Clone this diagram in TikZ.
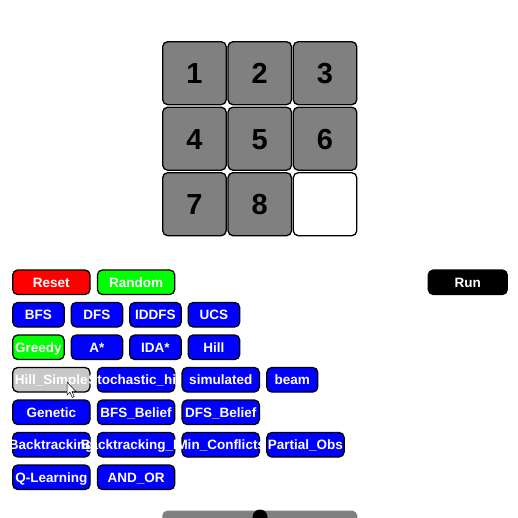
\documentclass[tikz,border=0pt]{standalone}
\usepackage{fontspec}
\setmainfont{Liberation Sans}
\definecolor{tilegray}{HTML}{808080}
\definecolor{lightbtn}{HTML}{C8C8C8}
\definecolor{pblue}{HTML}{0000FF}
\definecolor{pred}{HTML}{FF0000}
\definecolor{pgreen}{HTML}{00FF00}
\tikzset{
  x=1pt, y=-1pt,
  btn/.style={draw=black, line width=1.3pt, rounded corners=5pt, inner sep=0pt, outer sep=0pt, anchor=north west, minimum height=24.5pt},
  lbl/.style={text=white, font=\bfseries\fontsize{13.5}{13.5}\selectfont, anchor=base, inner sep=0pt},
  tile/.style={draw=black, line width=1.3pt, rounded corners=5pt, inner sep=0pt, outer sep=0pt, anchor=north west, minimum width=63.5pt, minimum height=63pt},
  digit/.style={text=black, font=\bfseries\fontsize{29}{29}\selectfont, anchor=base, inner sep=0pt},
}
\newcommand\mybtn[6]{%
  \node[btn, fill=#5, minimum width=#4pt] (#1) at (#2,#3) {};
  \node[lbl] (#1-t) at ([yshift=-5pt]#1.center) {#6};}
\newcommand\mytile[5]{%
  \node[tile, fill=#4] (#1) at (#2,#3) {};
  \node[digit] (#1-t) at ([yshift=-10.4pt]#1.center) {#5};}
\begin{document}
\begin{tikzpicture}
\useasboundingbox (0,0) rectangle (518,518);
\fill[white] (0,0) rectangle (518,518);
% puzzle
\mytile{t1}{162.7}{41.7}{tilegray}{1}
\mytile{t2}{228.0}{41.7}{tilegray}{2}
\mytile{t3}{293.3}{41.7}{tilegray}{3}
\mytile{t4}{162.7}{107.2}{tilegray}{4}
\mytile{t5}{228.0}{107.2}{tilegray}{5}
\mytile{t6}{293.3}{107.2}{tilegray}{6}
\mytile{t7}{162.7}{172.7}{tilegray}{7}
\mytile{t8}{228.0}{172.7}{tilegray}{8}
\mytile{t9}{293.3}{172.7}{white}{}
% row 1
\mybtn{reset}{12.7}{270}{77.3}{pred}{Reset}
\mybtn{random}{97.4}{270}{77.3}{pgreen}{Random}
\mybtn{run}{428.3}{270}{79}{black}{Run}
% row 2
\mybtn{bfs}{12.7}{302.5}{51.5}{pblue}{BFS}
\mybtn{dfs}{71.2}{302.5}{51.5}{pblue}{DFS}
\mybtn{iddfs}{129.7}{302.5}{51.5}{pblue}{IDDFS}
\mybtn{ucs}{188.2}{302.5}{51.5}{pblue}{UCS}
% row 3
\mybtn{greedy}{12.7}{335}{51.5}{pgreen}{Greedy}
\mybtn{astar}{71.2}{335}{51.5}{pblue}{A*}
\mybtn{idastar}{129.7}{335}{51.5}{pblue}{IDA*}
\mybtn{hill}{188.2}{335}{51.5}{pblue}{Hill}
% row 4
\mybtn{hillsimple}{12.7}{367.5}{77.3}{lightbtn}{Hill\_Simple}
\mybtn{stochastic}{97.4}{367.5}{77.3}{pblue}{Stochastic\_hill}
\mybtn{simulated}{182.1}{367.5}{77.3}{pblue}{simulated}
\mybtn{beam}{266.8}{367.5}{51}{pblue}{beam}
% row 5
\mybtn{genetic}{12.7}{400}{77.3}{pblue}{Genetic}
\mybtn{bfsbelief}{97.4}{400}{77.3}{pblue}{BFS\_Belief}
\mybtn{dfsbelief}{182.1}{400}{77.3}{pblue}{DFS\_Belief}
% row 6
\mybtn{backtracking}{12.7}{432.5}{77.3}{pblue}{Backtracking}
\mybtn{backtrackingfc}{97.4}{432.5}{77.3}{pblue}{Backtracking\_FC}
\mybtn{minconflicts}{182.1}{432.5}{77.3}{pblue}{Min\_Conflicts}
\mybtn{partialobs}{266.8}{432.5}{77.3}{pblue}{Partial\_Obs}
% row 7
\mybtn{qlearning}{12.7}{465}{77.3}{pblue}{Q-Learning}
\mybtn{andor}{97.4}{465}{77.3}{pblue}{AND\_OR}
% slider
\node[fill=tilegray, rounded corners=5pt, inner sep=0pt, outer sep=0pt, anchor=north west, minimum width=195pt, minimum height=20pt] (slider) at (162.3,510.7) {};
\node[circle, fill=black, inner sep=0pt, minimum size=15pt] (knob) at (260,517) {};
% mouse cursor
\draw[fill=white, draw=black, line width=0.5pt, line join=miter]
  (67,382) -- (67,395) -- (70,392.3) -- (72.3,397.5) -- (74.2,396.6) -- (72,391.6) -- (76,391.6) -- cycle;
\end{tikzpicture}
\end{document}
